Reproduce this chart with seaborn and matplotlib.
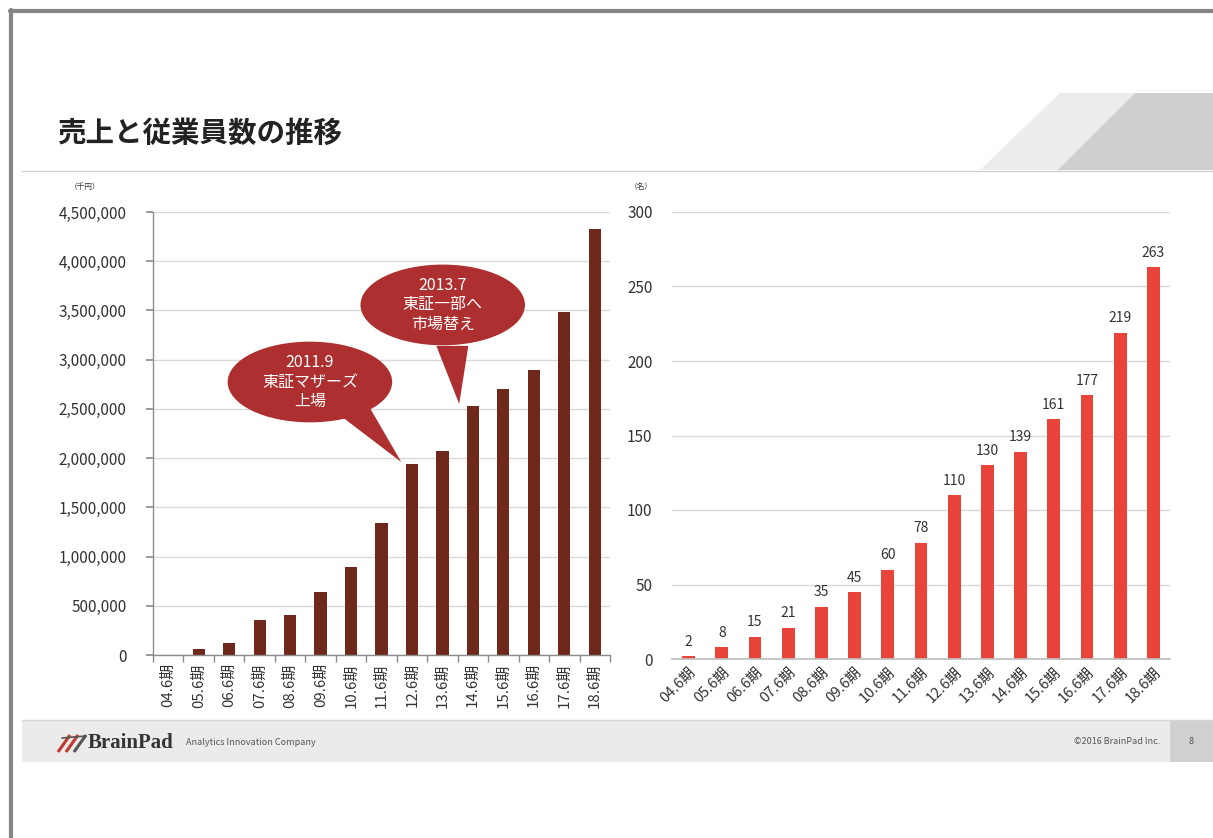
import numpy as np
import pandas as pd
import matplotlib
matplotlib.use('Agg')
import matplotlib.pyplot as plt
import seaborn as sns
from matplotlib.patches import Ellipse, Polygon, Rectangle
from matplotlib.ticker import FuncFormatter, MultipleLocator

# データ
periods = ['04.6期', '05.6期', '06.6期', '07.6期', '08.6期', '09.6期', '10.6期', '11.6期',
           '12.6期', '13.6期', '14.6期', '15.6期', '16.6期', '17.6期', '18.6期']
sales = [5000, 60000, 120000, 355000, 405000, 640000, 895000, 1340000,
         1940000, 2070000, 2530000, 2700000, 2895000, 3485000, 4330000]
employees = [2, 8, 15, 21, 35, 45, 60, 78, 110, 130, 139, 161, 177, 219, 263]

# 吹き出し (index of bar it points at, text)
events = [(8, '2011.9\n東証マザーズ\n上場'), (10, '2013.7\n東証一部へ\n市場替え')]

sns.set_theme(style='white')
plt.rcParams['font.family'] = ['Noto Sans CJK JP', 'DejaVu Sans']

W, H = 1213, 838
fig = plt.figure(figsize=(W / 100, H / 100), dpi=100)


def box(x0, y0, x1, y1):
    # pixel box -> figure fraction
    return [x0 / W, 1 - y1 / H, (x1 - x0) / W, (y1 - y0) / H]


# ---- slide decoration ------------------------------------------------------
deco = fig.add_axes([0, 0, 1, 1])
deco.set_xlim(0, W)
deco.set_ylim(H, 0)
deco.axis('off')
deco.add_patch(Polygon([(1060, 93), (1135, 93), (1060, 170), (980, 170)], color='#ececec', lw=0))
deco.add_patch(Polygon([(1135, 93), (1213, 93), (1213, 170), (1058, 170)], color='#cfcfd0', lw=0))
deco.plot([10, 1213], [11, 11], color='#858585', lw=3)
deco.plot([11, 11], [10, 838], color='#858585', lw=3)
deco.plot([22, 1213], [171, 171], color='#d0d0d0', lw=1)
deco.text(57, 134, '売上と従業員数の推移', fontsize=20.5, fontweight='bold', color='#222222', va='center')
deco.text(70, 187, '（千円）', fontsize=5.5, color='#333333', va='center')
deco.text(630, 187, '（名）', fontsize=5.5, color='#333333', va='center')
# footer
deco.add_patch(Rectangle((22, 720), 1191, 42, color='#ebebeb', lw=0))
deco.plot([22, 1213], [720, 720], color='#d5d5d5', lw=1)
deco.add_patch(Rectangle((1170, 720), 43, 42, color='#d0d0d0', lw=0))
deco.text(1191, 741, '8', fontsize=6.5, color='#555555', ha='center', va='center')
deco.text(1160, 741, '©2016 BrainPad Inc.', fontsize=6.5, color='#555555', ha='right', va='center')
deco.text(186, 742, 'Analytics Innovation Company', fontsize=6.5, color='#555555', va='center')
deco.text(88, 743, 'BrainPad', fontsize=15, fontweight='bold', color='#333333', va='center',
          family=['Liberation Serif', 'DejaVu Serif'])
for dx, c in [(0, '#c0392b'), (8, '#c0392b'), (16, '#555555')]:
    deco.plot([58 + dx, 70 + dx], [752, 735], color=c, lw=2.2, solid_capstyle='butt')
deco.plot([62, 86], [738, 736], color='#555555', lw=1.2)

# ---- 売上 (left) ------------------------------------------------------------
ax1 = fig.add_axes(box(153, 212, 610, 655))
df1 = pd.DataFrame({'period': periods, 'sales': sales})
sns.barplot(data=df1, x='period', y='sales', color='#6e291c', saturation=1, width=0.4, ax=ax1,
            edgecolor='none')
ax1.set_xlim(-0.5, len(periods) - 0.5)
ax1.set_ylim(0, 4500000)
ax1.yaxis.set_major_locator(MultipleLocator(500000))
ax1.yaxis.set_major_formatter(FuncFormatter(lambda v, p: f'{int(v):,}'))
ax1.grid(axis='y', color='#d9d9d9', lw=1)
ax1.set_axisbelow(True)
ax1.set_xlabel('')
ax1.set_ylabel('')
for s in ['top', 'right']:
    ax1.spines[s].set_visible(False)
for s in ['left', 'bottom']:
    ax1.spines[s].set_color('#8c8c8c')
    ax1.spines[s].set_linewidth(1)
ax1.set_xticks(np.arange(len(periods)))
ax1.set_xticklabels(periods, rotation=90, fontsize=10.8, color='#333333')
ax1.set_xticks(np.arange(len(periods) + 1) - 0.5, minor=True)
ax1.tick_params(axis='x', which='major', length=0, pad=6)
ax1.tick_params(axis='x', which='minor', bottom=True, length=5, color='#8c8c8c', width=1)
ax1.tick_params(axis='y', left=True, length=5, color='#8c8c8c', labelsize=11, labelcolor='#333333', pad=14)

# callouts
centers = [(4.65, 2773000), (9.01, 3556000)]
tails = [[(5.7, 2420000), (6.6, 2520000)], [(8.8, 3140000), (9.85, 3140000)]]
for (idx, txt), (cx, cy), base in zip(events, centers, tails):
    tip = (idx - 0.35 if idx == 8 else idx - 0.45, sales[idx] + 20000)
    ax1.add_patch(Polygon([base[0], base[1], tip], color='#ad2f2f', lw=0, clip_on=False, zorder=5))
    ax1.add_patch(Ellipse((cx, cy), 5.4, 820000, color='#ad2f2f', lw=0, clip_on=False, zorder=5))
    ax1.text(cx, cy, txt, ha='center', va='center', color='white', fontsize=11.5,
             linespacing=1.2, zorder=6)

# ---- 従業員数 (right) -------------------------------------------------------
ax2 = fig.add_axes(box(672, 212, 1170, 659))
df2 = pd.DataFrame({'period': periods, 'employees': employees})
sns.barplot(data=df2, x='period', y='employees', color='#e8443a', saturation=1, width=0.39, ax=ax2,
            edgecolor='none')
ax2.set_xlim(-0.5, len(periods) - 0.5)
ax2.set_ylim(0, 300)
ax2.yaxis.set_major_locator(MultipleLocator(50))
ax2.grid(axis='y', color='#d9d9d9', lw=1)
ax2.set_axisbelow(True)
ax2.set_xlabel('')
ax2.set_ylabel('')
for s in ['top', 'right', 'left']:
    ax2.spines[s].set_visible(False)
ax2.spines['bottom'].set_color('#bfbfbf')
ax2.set_xticks(np.arange(len(periods)))
ax2.set_xticklabels(periods, rotation=45, ha='right', rotation_mode='anchor', fontsize=10.5, color='#333333')
ax2.tick_params(axis='x', length=0, pad=4)
ax2.tick_params(axis='y', length=0, labelsize=11, labelcolor='#333333', pad=14)
for i, v in enumerate(employees):
    ax2.text(i, v + 5, str(v), ha='center', va='bottom', fontsize=10, color='#333333')

fig.savefig('out.png', dpi=100)
